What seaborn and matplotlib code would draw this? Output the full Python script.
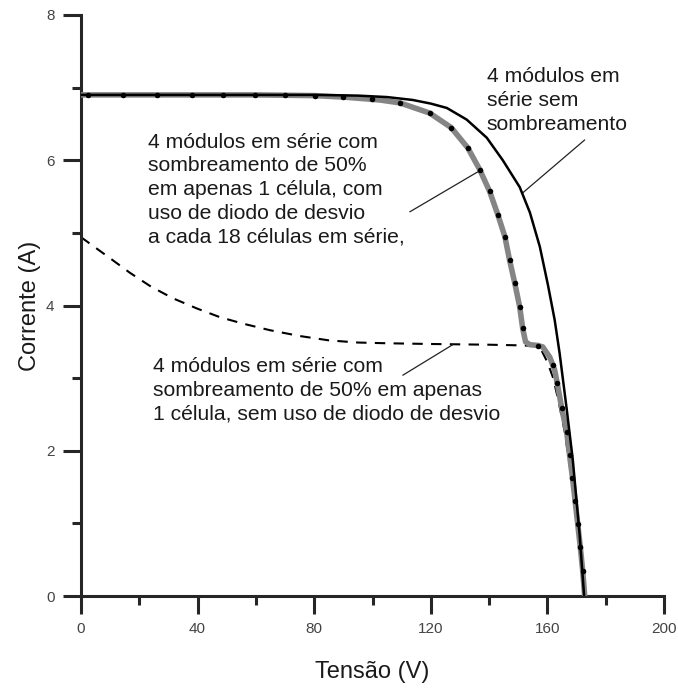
import matplotlib
matplotlib.use("Agg")
import matplotlib.pyplot as plt
import seaborn as sns
from matplotlib.ticker import MultipleLocator

# ---------------------------------------------------------------------
# Curvas I-V (tensão em V, corrente em A)
# ---------------------------------------------------------------------
# 4 módulos em série sem sombreamento
v_sem_sombra = [0, 20, 40, 60, 80, 95, 105, 113.8, 120, 125.5, 132.3, 139.2,
                144.7, 150.5, 154, 157.4, 160.2, 162.5, 164.2, 166.6, 168.7,
                171, 172.6]
i_sem_sombra = [6.9, 6.9, 6.9, 6.9, 6.9, 6.89, 6.87, 6.83, 6.78, 6.72, 6.56,
                6.31, 6.0, 5.63, 5.28, 4.81, 4.28, 3.8, 3.34, 2.58, 1.88,
                0.87, 0]

# sombreamento de 50% em 1 célula, com diodo de desvio
v_com_diodo = [0, 20, 40, 60, 80, 90, 102.5, 109.4, 119.6, 127, 132.7, 136.8,
               140.2, 143, 145.4, 147, 148.8, 150.5, 151.5, 152.5, 154, 156.7,
               158.4, 160.8, 162.5, 163.6, 164.9, 166.6, 167.6, 168.6, 169.5,
               170.4, 171.3, 172.1, 172.8]
i_com_diodo = [6.9, 6.9, 6.9, 6.9, 6.89, 6.87, 6.83, 6.79, 6.65, 6.45, 6.17,
               5.87, 5.57, 5.25, 4.95, 4.63, 4.31, 3.98, 3.69, 3.5, 3.46,
               3.45, 3.43, 3.29, 3.11, 2.88, 2.59, 2.26, 1.94, 1.63, 1.31,
               0.99, 0.67, 0.35, 0]

# marcadores (pontos pretos) sobre a curva com diodo
v_pontos = [2.4, 14.4, 26, 38, 48.8, 59.7, 70, 80.3, 89.8, 99.7, 109.4, 119.6,
            127, 132.7, 136.8, 140.2, 143, 145.4, 147, 148.8, 150.5, 151.5,
            156.7, 161.8, 163.2, 164.9, 166.6, 167.6, 168.6, 169.5, 170.4,
            171.3, 172.1]
i_pontos = [6.9, 6.9, 6.9, 6.9, 6.9, 6.9, 6.9, 6.89, 6.87, 6.84, 6.79, 6.65,
            6.45, 6.17, 5.87, 5.57, 5.25, 4.95, 4.63, 4.31, 3.98, 3.69,
            3.44, 3.18, 2.93, 2.59, 2.26, 1.94, 1.63, 1.31, 0.99, 0.67, 0.35]

# sombreamento de 50% em 1 célula, sem diodo de desvio
v_sem_diodo = [0, 1.4, 10, 16.8, 24, 31.5, 39.7, 47.6, 55.6, 64.8, 75, 85, 95,
               105, 120, 140, 152, 156, 158, 160, 162, 164, 166, 168, 170,
               171.5, 172.8]
i_sem_diodo = [4.94, 4.9, 4.65, 4.45, 4.26, 4.1, 3.96, 3.84, 3.75, 3.66, 3.58,
               3.52, 3.49, 3.48, 3.47, 3.46, 3.45, 3.44, 3.38, 3.22, 3.0,
               2.65, 2.25, 1.7, 1.1, 0.6, 0]

# ---------------------------------------------------------------------
# Figura
# ---------------------------------------------------------------------
sns.set_style("ticks")
plt.rcParams["font.family"] = ["Liberation Sans", "DejaVu Sans"]

W, H = 678, 694
fig = plt.figure(figsize=(W / 100, H / 100), dpi=100)
ax = fig.add_axes([81 / W, 1 - 596 / H, (664 - 81) / W, (596 - 15) / H])

sns.lineplot(x=v_sem_diodo, y=i_sem_diodo, ax=ax, sort=False, estimator=None,
             color="black", lw=1.5, linestyle=(0, (5, 4)), zorder=2)
sns.lineplot(x=v_com_diodo, y=i_com_diodo, ax=ax, sort=False, estimator=None,
             color="#858585", lw=4, zorder=3)
sns.scatterplot(x=v_pontos, y=i_pontos, ax=ax, color="black", s=16,
                linewidth=0, zorder=4)
sns.lineplot(x=v_sem_sombra, y=i_sem_sombra, ax=ax, sort=False, estimator=None,
             color="black", lw=1.8, zorder=5)

# ---------------------------------------------------------------------
# Eixos
# ---------------------------------------------------------------------
ax.set_xlim(0, 200)
ax.set_ylim(0, 8)
ax.xaxis.set_major_locator(MultipleLocator(40))
ax.xaxis.set_minor_locator(MultipleLocator(20))
ax.yaxis.set_major_locator(MultipleLocator(2))
ax.yaxis.set_minor_locator(MultipleLocator(1))
sns.despine(ax=ax)
for s in ["left", "bottom"]:
    ax.spines[s].set_linewidth(2.2)
ax.tick_params(which="major", length=13, width=2.2, labelsize=11,
               labelcolor="#444444", pad=6)
ax.tick_params(which="minor", length=6.5, width=2.2)

ax.set_xlabel("Tensão (V)", fontsize=17, labelpad=18, color="#1a1a1a")
ax.set_ylabel("Corrente (A)", fontsize=17, labelpad=4, color="#1a1a1a")

# ---------------------------------------------------------------------
# Textos e linhas de chamada
# ---------------------------------------------------------------------
txt = dict(fontsize=15.2, color="#1a1a1a", va="top", ha="left", linespacing=1.32)
ax.text(139.2, 7.28, "4 módulos em\nsérie sem\nsombreamento", **txt)
ax.text(23.0, 6.38, "4 módulos em série com\nsombreamento de 50%\n"
        "em apenas 1 célula, com\nuso de diodo de desvio\n"
        "a cada 18 células em série,", **txt)
ax.text(24.7, 3.29, "4 módulos em série com\nsombreamento de 50% em apenas\n"
        "1 célula, sem uso de diodo de desvio", **txt)

seta = dict(arrowstyle="-", lw=0.9, color="#222222", shrinkA=0, shrinkB=0)
ax.annotate("", xy=(151.5, 5.55), xytext=(172.8, 6.28), arrowprops=seta)
ax.annotate("", xy=(136.1, 5.84), xytext=(112.8, 5.29), arrowprops=seta)
ax.annotate("", xy=(127.5, 3.46), xytext=(110.4, 3.04), arrowprops=seta)

fig.savefig("out.png", dpi=100)
